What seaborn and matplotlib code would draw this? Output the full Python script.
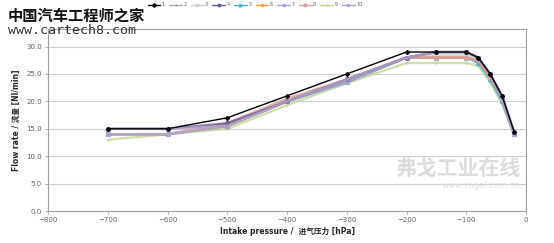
import numpy as np
import pandas as pd
import seaborn as sns
import matplotlib
matplotlib.use("Agg")
import matplotlib.pyplot as plt
from matplotlib.lines import Line2D

pressure = [-700, -600, -500, -400, -300, -200, -150, -100, -80, -60, -40, -20]
series_names = ["1", "2", "3", "4", "5", "6", "7", "8", "9", "10"]
s1 = [15.0, 15.0, 17.0, 21.0, 25.0, 29.0, 29.0, 29.0, 28.0, 25.0, 21.0, 14.5]
s2 = [14.0, 14.0, 15.5, 20.0, 23.5, 28.0, 28.0, 28.0, 27.5, 24.5, 20.0, 14.0]
s3 = [14.0, 14.0, 15.5, 20.0, 23.5, 28.0, 28.5, 28.5, 27.5, 24.5, 20.0, 14.0]
s4 = [15.0, 15.0, 16.0, 20.0, 24.0, 28.0, 29.0, 29.0, 28.0, 25.0, 21.0, 14.5]
s5 = [14.0, 14.0, 15.5, 20.0, 23.5, 28.0, 28.0, 28.0, 27.0, 24.0, 20.0, 14.0]
s6 = [14.0, 14.0, 15.5, 20.0, 24.0, 28.0, 28.0, 28.0, 27.5, 24.5, 20.5, 14.0]
s7 = [14.0, 14.0, 15.5, 20.0, 23.5, 28.0, 29.0, 29.0, 28.0, 25.0, 20.5, 14.0]
s8 = [14.0, 14.0, 16.0, 20.5, 24.0, 28.0, 28.0, 28.0, 27.5, 24.5, 20.5, 14.0]
s9 = [13.0, 14.0, 15.0, 19.3, 23.3, 27.0, 27.0, 27.0, 26.5, 23.5, 19.5, 14.0]
s10 = [15.0, 15.0, 15.5, 20.0, 24.0, 28.0, 29.0, 29.0, 28.0, 25.0, 20.5, 14.0]
all_series = [s1, s2, s3, s4, s5, s6, s7, s8, s9, s10]

x_ticks = [-800, -700, -600, -500, -400, -300, -200, -100, 0]
y_ticks = [0, 5, 10, 15, 20, 25, 30]

colors = ["#000000", "#a6a6a6", "#d0d0d0", "#6a5a90", "#4bacc6", "#f79646",
          "#a9a6d6", "#d9a09c", "#c3d69b", "#b3a2c7"]
markers = ["D", "+", "x", "o", "^", "*", "s", "o", "+", "x"]
draw_order = ["9", "2", "3", "5", "6", "8", "7", "4", "10", "1"]

rows = []
for name, vals in zip(series_names, all_series):
    for p, v in zip(pressure, vals):
        rows.append({"p": p, "flow": v, "series": name})
df = pd.DataFrame(rows)

sns.set_style("white")
plt.rcParams["font.family"] = ["DejaVu Sans", "Noto Sans CJK SC"]

fig = plt.figure(figsize=(5.54, 2.43), dpi=100)
ax = fig.add_axes([48 / 554, 1 - 211 / 243, (526 - 48) / 554, (211 - 29) / 243])

pal = dict(zip(series_names, colors))
mk = dict(zip(series_names, markers))
for name in draw_order:
    sub = df[df["series"] == name]
    lw = 1.0 if name == "1" else 1.7
    ms = 2.2 if name == "1" else 3.0
    alpha = 1.0 if name == "1" else 0.8
    sns.lineplot(data=sub, x="p", y="flow", color=pal[name], marker=mk[name],
                 markersize=ms, linewidth=lw, alpha=alpha, ax=ax,
                 markeredgecolor=pal[name], markeredgewidth=0.7, legend=False,
                 zorder=5 if name == "1" else 3)

ax.set_xlim(-800, 0)
ax.set_ylim(0, 33.2)
ax.set_xticks(x_ticks)
ax.set_yticks(y_ticks)
ax.set_yticklabels([f"{v:.1f}" for v in y_ticks])
ax.yaxis.grid(True, color="#cfcfcf", linewidth=0.8)
ax.xaxis.grid(False)
for s in ax.spines.values():
    s.set_color("#a0a0a0")
    s.set_linewidth(0.8)
ax.tick_params(axis="both", labelsize=5, colors="#606060", length=2.5,
               width=0.6, direction="out", pad=2)
ax.tick_params(axis="x", color="#a0a0a0")
ax.tick_params(axis="y", color="#a0a0a0")
ax.xaxis.set_ticks_position("bottom")
ax.yaxis.set_ticks_position("left")
ax.set_xlabel("Intake pressure /  进气压力 [hPa]", fontsize=5.5, fontweight="bold",
              labelpad=3)
ax.set_ylabel("Flow rate / 流量 [Nl/min]", fontsize=5.5, fontweight="bold",
              labelpad=4)

handles = [Line2D([0], [0], color=c, marker=m, markersize=1.8, linewidth=1.0,
                  markeredgecolor=c) for c, m in zip(colors, markers)]
fig.legend(handles, series_names, loc="center", bbox_to_anchor=(255 / 554, 1 - 5 / 243),
           ncol=10, frameon=False, fontsize=3.5, handlelength=2.6,
           columnspacing=0.9, handletextpad=0.3, labelcolor="#606060")

# watermarks
fig.text(8 / 554, 1 - 16 / 243, "中国汽车工程师之家", fontsize=11, fontweight="bold",
         family=["Noto Sans CJK SC"], color="#111111", va="center", ha="left")
fig.text(8 / 554, 1 - 31 / 243, "www.cartech8.com", fontsize=9.6,
         family=["DejaVu Sans Mono"], color="#333333", va="center", ha="left")
fig.text(520 / 554, 1 - 168 / 243, "弗戈工业在线", fontsize=15, fontweight="bold",
         family=["Noto Sans CJK SC"], color="#d8d8d8", va="center", ha="right",
         alpha=0.9)
fig.text(520 / 554, 1 - 186 / 243, "www.vogel.com.cn", fontsize=6,
         color="#dddddd", va="center", ha="right")

fig.savefig("out.png", dpi=100)
